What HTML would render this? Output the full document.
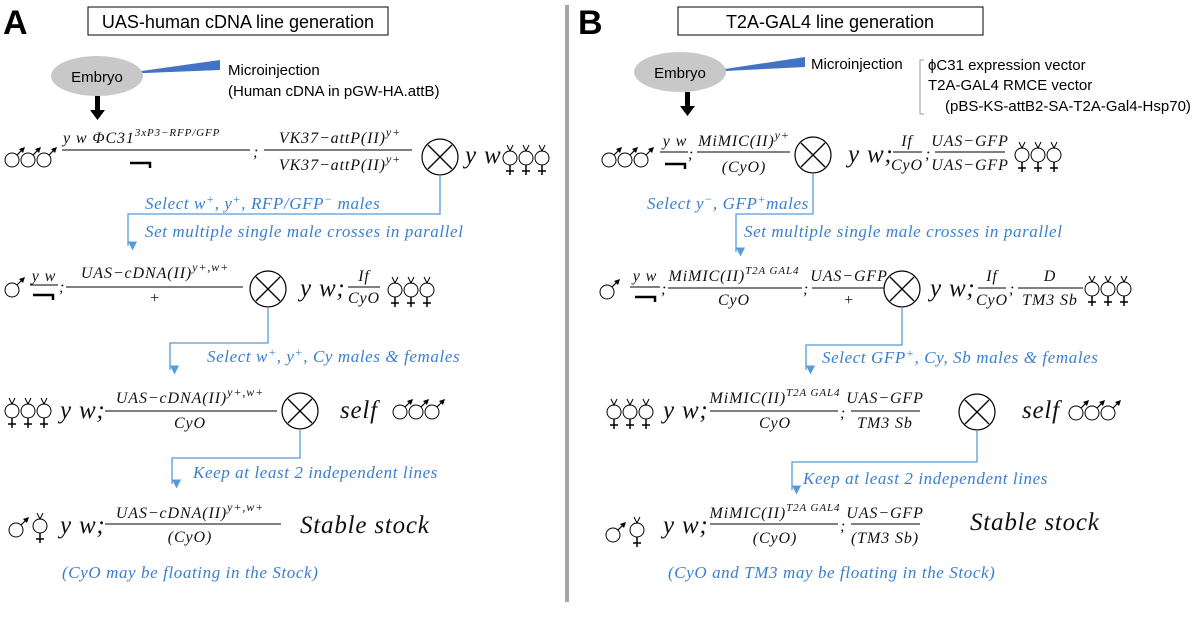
<!DOCTYPE html>
<html><head><meta charset="utf-8"><style>
html,body{margin:0;padding:0;background:#fff;width:1200px;height:620px;overflow:hidden}
svg text{font-family:"Liberation Serif",serif;font-style:italic}
.s{font-family:"Liberation Sans",sans-serif;font-style:normal}
.m{font-size:16px;fill:#111;letter-spacing:0.9px}
.b{font-size:25px;fill:#111;letter-spacing:0.8px}
.bl{font-size:17px;fill:#3a7fcf;letter-spacing:0.6px}
.c{stroke:#5b9bd5;stroke-width:1.3;fill:none}
</style></head><body>
<svg width="1200" height="620" viewBox="0 0 1200 620" xmlns="http://www.w3.org/2000/svg">
<defs>
<g id="M"><circle cx="0" cy="0" r="7" fill="#fff" stroke="#000" stroke-width="1"/><line x1="5" y1="-5" x2="11" y2="-11" stroke="#000" stroke-width="1.2"/><path d="M13,-13 L7,-11 L11,-7Z" fill="#000"/></g>
<g id="F"><circle cx="0" cy="0" r="7" fill="#fff" stroke="#000" stroke-width="1"/><path d="M-3,-13 L0,-7 L3,-13" stroke="#000" fill="none" stroke-width="1"/><line x1="0" y1="7" x2="0" y2="17" stroke="#000" stroke-width="1.5"/><line x1="-4" y1="13" x2="4" y2="13" stroke="#000" stroke-width="1.5"/></g>
<g id="X"><circle cx="0" cy="0" r="18" fill="#fff" stroke="#000" stroke-width="1.2"/><line x1="-12" y1="-12" x2="12" y2="12" stroke="#000" stroke-width="1.3"/><line x1="-12" y1="12" x2="12" y2="-12" stroke="#000" stroke-width="1.3"/></g>
<g id="H"><path d="M0,0 L20,0 L20,5" stroke="#000" stroke-width="2.5" fill="none"/></g>
<marker id="ar" viewBox="0 0 10 10" refX="5" refY="10" markerWidth="7" markerHeight="7" orient="auto-start-reverse"><path d="M0,0 L10,5 L0,10Z" fill="#5b9bd5"/></marker>
</defs>

<rect x="565" y="5" width="4" height="597" fill="#a6a6a6"/>

<!-- Panel A -->
<text x="3" y="34" class="s" font-size="34" font-weight="bold">A</text>
<rect x="88" y="7" width="300" height="28" fill="#fff" stroke="#000"/>
<text x="238" y="28" class="s" font-size="18" text-anchor="middle">UAS-human cDNA line generation</text>
<path d="M120,74 L220,60 L220,70Z" fill="#4472c4"/>
<ellipse cx="97" cy="76" rx="46" ry="20" fill="#c8c8c8"/>
<text x="97" y="82" class="s" font-size="15" text-anchor="middle">Embryo</text>
<text x="228" y="75" class="s" font-size="15">Microinjection</text>
<text x="228" y="96" class="s" font-size="15">(Human cDNA in pGW-HA.attB)</text>
<rect x="95" y="96" width="5" height="16" fill="#000"/><path d="M90,110 L105,110 L97.5,120Z" fill="#000"/>

<use href="#M" x="12" y="160"/><use href="#M" x="28" y="160"/><use href="#M" x="44" y="160"/>
<text x="63" y="143" class="m">y w ΦC31<tspan font-size="11" dy="-7">3xP3−RFP/GFP</tspan></text>
<line x1="62" y1="150" x2="250" y2="150" stroke="#000"/>
<use href="#H" x="130" y="163"/>
<text x="253" y="157" class="m">;</text>
<text x="340" y="143" class="m" text-anchor="middle">VK37−attP(II)<tspan font-size="12" dy="-7">y+</tspan></text>
<line x1="264" y1="150" x2="412" y2="150" stroke="#000"/>
<text x="340" y="170" class="m" text-anchor="middle">VK37−attP(II)<tspan font-size="12" dy="-7">y+</tspan></text>
<use href="#X" x="440" y="157"/>
<text x="465" y="163" class="b">y w</text>
<use href="#F" x="510" y="158"/><use href="#F" x="526" y="158"/><use href="#F" x="542" y="158"/>
<path class="c" d="M440,175 V214 H128 V246" marker-end="url(#ar)"/>
<text x="145" y="209" class="bl">Select w<tspan font-size="12" dy="-6">+</tspan><tspan dy="6">, y</tspan><tspan font-size="12" dy="-6">+</tspan><tspan dy="6">, RFP/GFP</tspan><tspan font-size="12" dy="-6">−</tspan><tspan dy="6"> males</tspan></text>
<text x="145" y="237" class="bl">Set multiple single male crosses in parallel</text>

<use href="#M" x="12" y="290"/>
<text x="44" y="281" class="m" text-anchor="middle">y w</text>
<line x1="30" y1="285" x2="58" y2="285" stroke="#000"/>
<use href="#H" x="33" y="295"/>
<text x="59" y="292" class="m">;</text>
<text x="155" y="278" class="m" text-anchor="middle">UAS−cDNA(II)<tspan font-size="12" dy="-7">y+,w+</tspan></text>
<line x1="66" y1="287" x2="243" y2="287" stroke="#000"/>
<text x="155" y="303" class="m" text-anchor="middle">+</text>
<use href="#X" x="268" y="289"/>
<text x="300" y="296" class="b">y w;</text>
<text x="364" y="281" class="m" text-anchor="middle">If</text>
<line x1="348" y1="287" x2="380" y2="287" stroke="#000"/>
<text x="364" y="303" class="m" text-anchor="middle">CyO</text>
<use href="#F" x="395" y="290"/><use href="#F" x="411" y="290"/><use href="#F" x="427" y="290"/>
<path class="c" d="M268,307 V343 H170 V370" marker-end="url(#ar)"/>
<text x="207" y="362" class="bl">Select w<tspan font-size="12" dy="-6">+</tspan><tspan dy="6">, y</tspan><tspan font-size="12" dy="-6">+</tspan><tspan dy="6">, Cy males &amp; females</tspan></text>

<use href="#F" x="12" y="411"/><use href="#F" x="28" y="411"/><use href="#F" x="44" y="411"/>
<text x="60" y="418" class="b">y w;</text>
<text x="190" y="403" class="m" text-anchor="middle">UAS−cDNA(II)<tspan font-size="12" dy="-7">y+,w+</tspan></text>
<line x1="105" y1="411" x2="277" y2="411" stroke="#000"/>
<text x="190" y="428" class="m" text-anchor="middle">CyO</text>
<use href="#X" x="300" y="411"/>
<text x="340" y="418" class="b">self</text>
<use href="#M" x="400" y="412"/><use href="#M" x="416" y="412"/><use href="#M" x="432" y="412"/>
<path class="c" d="M300,429 V458 H172 V484" marker-end="url(#ar)"/>
<text x="193" y="478" class="bl">Keep at least 2 independent lines</text>

<use href="#M" x="16" y="530"/><use href="#F" x="40" y="526"/>
<text x="60" y="533" class="b">y w;</text>
<text x="190" y="518" class="m" text-anchor="middle">UAS−cDNA(II)<tspan font-size="12" dy="-7">y+,w+</tspan></text>
<line x1="105" y1="524" x2="281" y2="524" stroke="#000"/>
<text x="190" y="542" class="m" text-anchor="middle">(CyO)</text>
<text x="300" y="533" class="b">Stable stock</text>
<text x="62" y="578" class="bl">(CyO may be floating in the Stock)</text>

<!-- Panel B -->
<text x="578" y="34" class="s" font-size="34" font-weight="bold">B</text>
<rect x="678" y="7" width="305" height="28" fill="#fff" stroke="#000"/>
<text x="830" y="28" class="s" font-size="18" text-anchor="middle">T2A-GAL4 line generation</text>
<path d="M705,72 L805,57 L805,67Z" fill="#4472c4"/>
<ellipse cx="680" cy="72" rx="46" ry="20" fill="#c8c8c8"/>
<text x="680" y="78" class="s" font-size="15" text-anchor="middle">Embryo</text>
<text x="811" y="69" class="s" font-size="15">Microinjection</text>
<path d="M924,60 L920,60 L920,114 L924,114" stroke="#999" fill="none"/>
<text x="928" y="70" class="s" font-size="15">ϕC31 expression vector</text>
<text x="928" y="90" class="s" font-size="15">T2A-GAL4 RMCE vector</text>
<text x="945" y="111" class="s" font-size="15">(pBS-KS-attB2-SA-T2A-Gal4-Hsp70)</text>
<rect x="685" y="92" width="5" height="16" fill="#000"/><path d="M680,106 L695,106 L687.5,116Z" fill="#000"/>

<use href="#M" x="609" y="160"/><use href="#M" x="625" y="160"/><use href="#M" x="641" y="160"/>
<text x="675" y="146" class="m" text-anchor="middle">y w</text>
<line x1="660" y1="152" x2="688" y2="152" stroke="#000"/>
<use href="#H" x="665" y="164"/>
<text x="688" y="159" class="m">;</text>
<text x="744" y="146" class="m" text-anchor="middle">MiMIC(II)<tspan font-size="12" dy="-7">y+</tspan></text>
<line x1="697" y1="152" x2="790" y2="152" stroke="#000"/>
<text x="744" y="172" class="m" text-anchor="middle">(CyO)</text>
<use href="#X" x="813" y="155"/>
<text x="848" y="162" class="b">y w;</text>
<text x="907" y="146" class="m" text-anchor="middle">If</text>
<line x1="893" y1="152" x2="922" y2="152" stroke="#000"/>
<text x="907" y="170" class="m" text-anchor="middle">CyO</text>
<text x="925" y="159" class="m">;</text>
<text x="970" y="146" class="m" text-anchor="middle">UAS−GFP</text>
<line x1="935" y1="152" x2="1005" y2="152" stroke="#000"/>
<text x="970" y="170" class="m" text-anchor="middle">UAS−GFP</text>
<use href="#F" x="1022" y="155"/><use href="#F" x="1038" y="155"/><use href="#F" x="1054" y="155"/>
<path class="c" d="M813,173 V214 H736 V252" marker-end="url(#ar)"/>
<text x="647" y="209" class="bl">Select y<tspan font-size="12" dy="-6">−</tspan><tspan dy="6">, GFP</tspan><tspan font-size="12" dy="-6">+</tspan><tspan dy="6">males</tspan></text>
<text x="744" y="237" class="bl">Set multiple single male crosses in parallel</text>

<use href="#M" x="607" y="292"/>
<text x="645" y="281" class="m" text-anchor="middle">y w</text>
<line x1="630" y1="287" x2="660" y2="287" stroke="#000"/>
<use href="#H" x="635" y="297"/>
<text x="661" y="294" class="m">;</text>
<text x="734" y="281" class="m" text-anchor="middle">MiMIC(II)<tspan font-size="11" dy="-7">T2A GAL4</tspan></text>
<line x1="668" y1="288" x2="802" y2="288" stroke="#000"/>
<text x="734" y="305" class="m" text-anchor="middle">CyO</text>
<text x="803" y="294" class="m">;</text>
<text x="849" y="281" class="m" text-anchor="middle">UAS−GFP</text>
<line x1="812" y1="288" x2="884" y2="288" stroke="#000"/>
<text x="849" y="305" class="m" text-anchor="middle">+</text>
<use href="#X" x="902" y="289"/>
<text x="930" y="296" class="b">y w;</text>
<text x="992" y="281" class="m" text-anchor="middle">If</text>
<line x1="978" y1="288" x2="1006" y2="288" stroke="#000"/>
<text x="992" y="305" class="m" text-anchor="middle">CyO</text>
<text x="1009" y="294" class="m">;</text>
<text x="1050" y="281" class="m" text-anchor="middle">D</text>
<line x1="1018" y1="288" x2="1083" y2="288" stroke="#000"/>
<text x="1050" y="305" class="m" text-anchor="middle">TM3 Sb</text>
<use href="#F" x="1092" y="289"/><use href="#F" x="1108" y="289"/><use href="#F" x="1124" y="289"/>
<path class="c" d="M902,307 V345 H806 V370" marker-end="url(#ar)"/>
<text x="822" y="363" class="bl">Select GFP<tspan font-size="12" dy="-6">+</tspan><tspan dy="6">, Cy, Sb males &amp; females</tspan></text>

<use href="#F" x="614" y="412"/><use href="#F" x="630" y="412"/><use href="#F" x="646" y="412"/>
<text x="663" y="418" class="b">y w;</text>
<text x="775" y="403" class="m" text-anchor="middle">MiMIC(II)<tspan font-size="11" dy="-7">T2A GAL4</tspan></text>
<line x1="710" y1="411" x2="838" y2="411" stroke="#000"/>
<text x="775" y="428" class="m" text-anchor="middle">CyO</text>
<text x="840" y="418" class="m">;</text>
<text x="885" y="403" class="m" text-anchor="middle">UAS−GFP</text>
<line x1="851" y1="411" x2="920" y2="411" stroke="#000"/>
<text x="885" y="428" class="m" text-anchor="middle">TM3 Sb</text>
<use href="#X" x="977" y="412"/>
<text x="1022" y="418" class="b">self</text>
<use href="#M" x="1076" y="413"/><use href="#M" x="1092" y="413"/><use href="#M" x="1108" y="413"/>
<path class="c" d="M977,430 V462 H792 V490" marker-end="url(#ar)"/>
<text x="803" y="484" class="bl">Keep at least 2 independent lines</text>

<use href="#M" x="613" y="535"/><use href="#F" x="637" y="530"/>
<text x="663" y="533" class="b">y w;</text>
<text x="775" y="518" class="m" text-anchor="middle">MiMIC(II)<tspan font-size="11" dy="-7">T2A GAL4</tspan></text>
<line x1="710" y1="524" x2="838" y2="524" stroke="#000"/>
<text x="775" y="543" class="m" text-anchor="middle">(CyO)</text>
<text x="840" y="531" class="m">;</text>
<text x="885" y="518" class="m" text-anchor="middle">UAS−GFP</text>
<line x1="851" y1="524" x2="920" y2="524" stroke="#000"/>
<text x="885" y="543" class="m" text-anchor="middle">(TM3 Sb)</text>
<text x="970" y="530" class="b">Stable stock</text>
<text x="668" y="578" class="bl">(CyO and TM3 may be floating in the Stock)</text>
</svg>
</body></html>
